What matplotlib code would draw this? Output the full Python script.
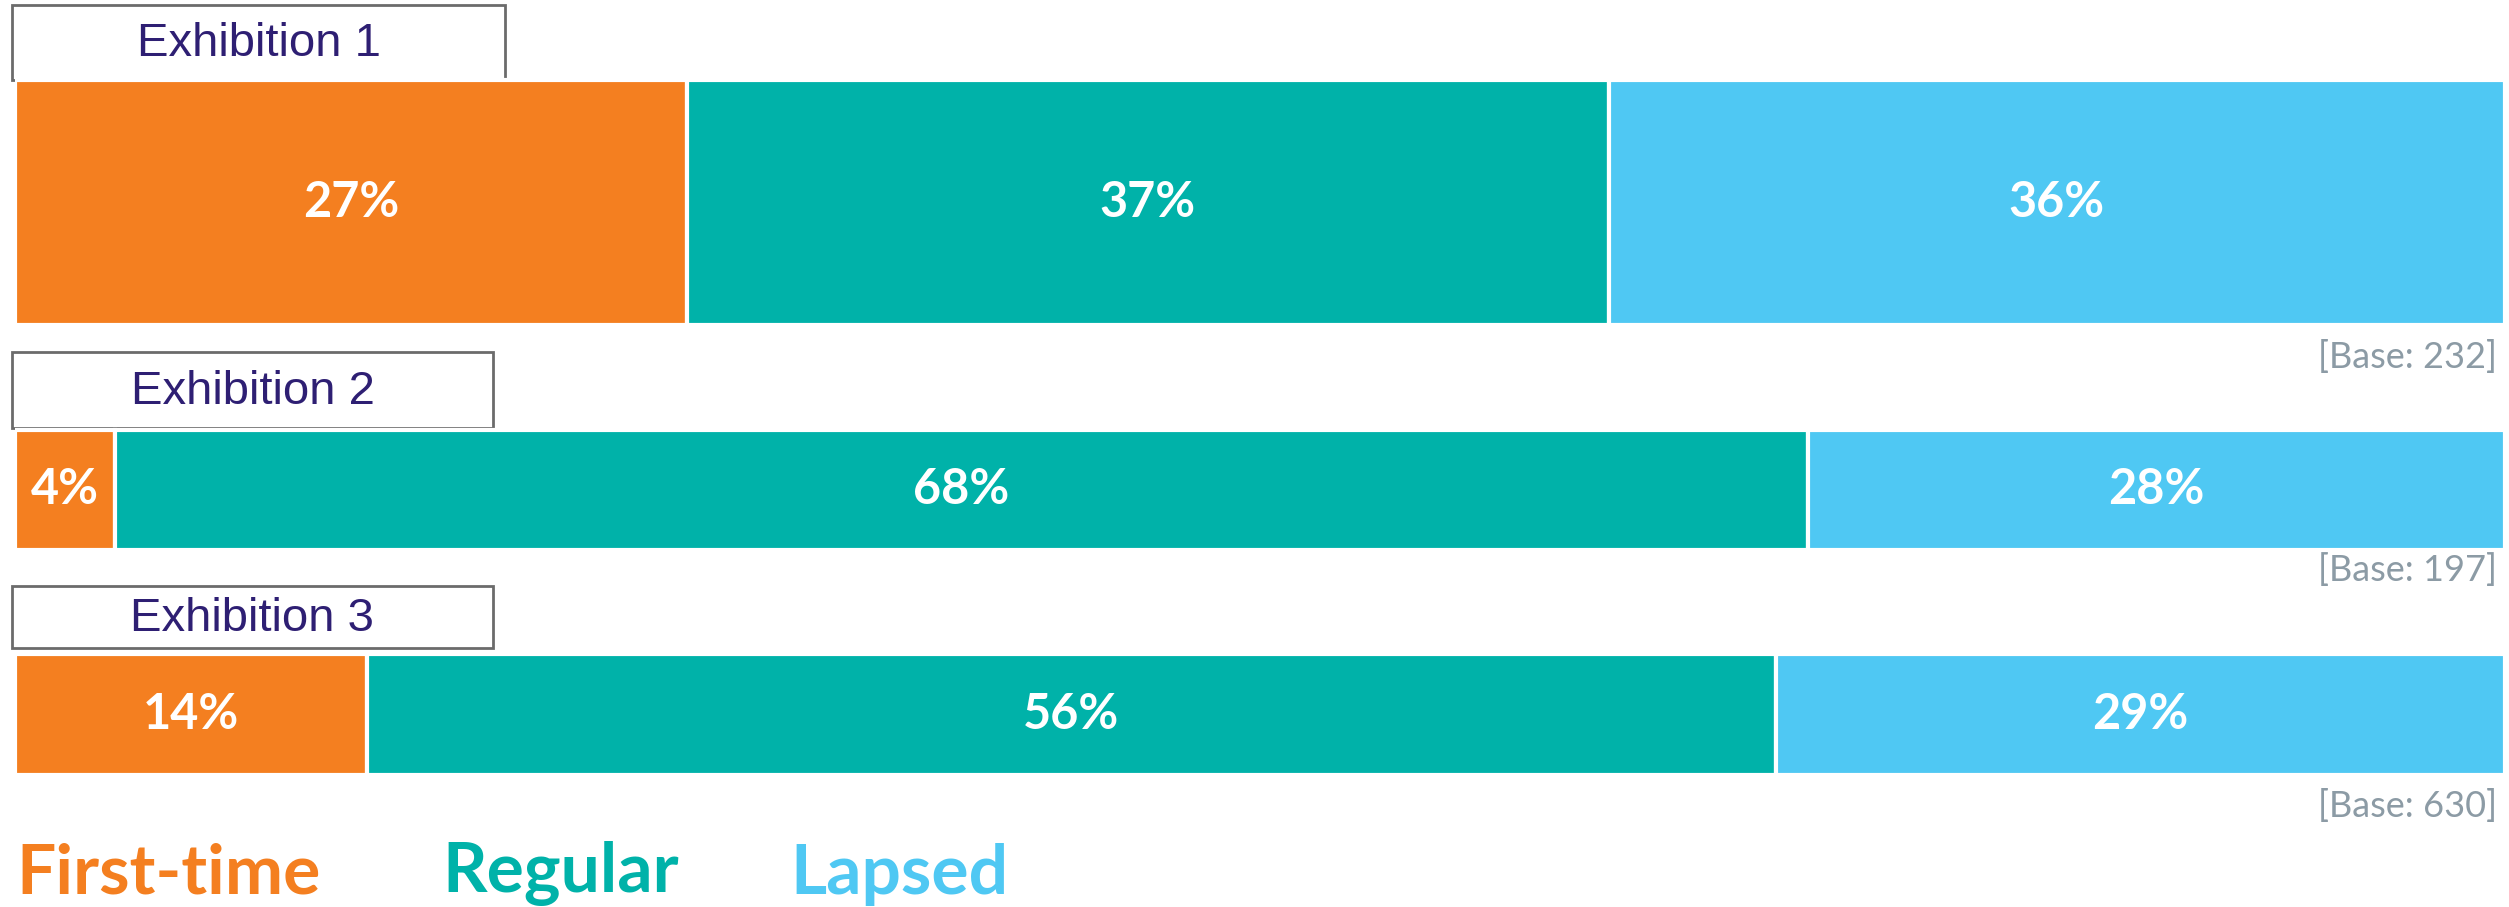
"""
stacked share bars for three exhibitions
"""
import numpy as np
import matplotlib
matplotlib.use('Agg')
from matplotlib import pyplot as plt
from matplotlib.patches import Rectangle

exhibitions = ['Exhibition 1', 'Exhibition 2', 'Exhibition 3']
segments = ['First-time', 'Regular', 'Lapsed']
first_time = [27, 4, 14]
regular = [37, 68, 56]
lapsed = [36, 28, 29]
bases = [232, 197, 630]

colors = ['#F47F20', '#00B2A9', '#4FC8F3']
W, H = 2509, 907

# layout in pixels (y measured from top)
bar_top = [80, 430, 654]
bar_bot = [325, 550, 775]
box_pos = [(12, 5, 505, 80), (12, 352, 493, 428), (12, 586, 493, 648)]
base_y = [357, 570, 806]
legend_x = [16, 442, 790]
legend_y = 874

fig = plt.figure(figsize=(W / 100, H / 100), dpi=100)
bg = fig.add_axes([0, 0, 1, 1])
bg.set_xlim(0, W)
bg.set_ylim(H, 0)
bg.axis('off')

ax = fig.add_axes([15 / W, 0, 2490 / W, 1])
ax.set_xlim(0, 100)
ax.set_ylim(H, 0)
ax.axis('off')

values = np.array([first_time, regular, lapsed], dtype=float).T
for i, row in enumerate(values):
    shares = row / row.sum() * 100
    left = 0
    yc = (bar_top[i] + bar_bot[i]) / 2
    hgt = bar_bot[i] - bar_top[i]
    for j, (v, s) in enumerate(zip(row, shares)):
        ax.barh(yc, s, left=left, height=hgt, color=colors[j],
                edgecolor='white', linewidth=3)
        ax.text(left + s / 2, yc, f'{int(v)}%', ha='center', va='center',
                color='white', fontsize=35, fontweight='bold', family='Lato')
        left += s

    x0, y0, x1, y1 = box_pos[i]
    bg.add_patch(Rectangle((x0, y0), x1 - x0, y1 - y0, facecolor='white',
                           edgecolor='#6b6b6b', linewidth=2, zorder=5))
    bg.text((x0 + x1) / 2, (y0 + y1) / 2 + 2, exhibitions[i], ha='center', va='center',
            color='#2E1F73', fontsize=34, family='Liberation Sans', zorder=6)

    bg.text(2497, base_y[i], f'[Base: {bases[i]}]', ha='right', va='center',
            color='#8C9BA5', fontsize=26, family='Lato')

for k, name in enumerate(segments):
    bg.text(legend_x[k], legend_y, name, ha='left', va='center', color=colors[k],
            fontsize=50, fontweight='bold', family='Lato')

fig.savefig('out.png', dpi=100)
